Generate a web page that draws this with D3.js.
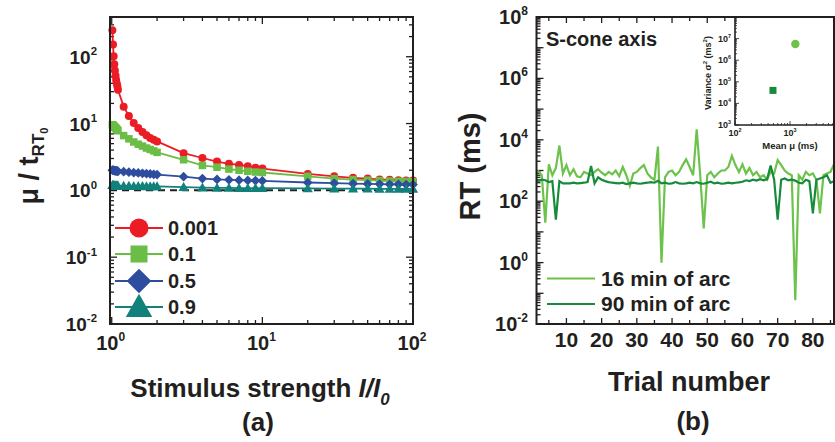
<!DOCTYPE html>
<html><head><meta charset="utf-8">
<script src="https://cdn.jsdelivr.net/npm/d3@7"></script>
<style>
body{margin:0;background:#fff}
svg{display:block;font-family:"Liberation Sans",Arial,sans-serif;font-weight:bold}
</style>
</head><body>
<svg id="c" width="835" height="442"></svg>
<script>
// ---------------- data: panel (a) ----------------
const stimulus = [1.01,1.02,1.03,1.04,1.05,1.06,1.07,1.08,1.09,1.1,
  1.2,1.3,1.4,1.5,1.6,1.7,1.8,1.9,2.0,
  3,4,5,6,7,8,9,10,
  20,30,40,50,60,70,80,90,100];
const p0001 = [250,152,102,77,62,52,45,40,36,32,
  17.9,13,10.2,8.6,7.5,6.7,6.1,5.7,5.4,
  3.6,3.05,2.7,2.5,2.4,2.3,2.18,2.12,
  1.76,1.62,1.54,1.5,1.46,1.44,1.42,1.41,1.4];
const p01 = [9.6,9.4,9.2,9.0,8.8,8.6,8.4,8.2,8.0,7.8,
  6.6,5.9,5.3,4.9,4.6,4.3,4.1,3.9,3.7,
  2.87,2.36,2.22,2.08,2.0,1.93,1.88,1.85,
  1.62,1.5,1.45,1.42,1.4,1.38,1.37,1.36,1.35];
const p05 = [2.0,2.0,1.99,1.98,1.97,1.96,1.95,1.95,1.94,1.93,
  1.9,1.87,1.84,1.82,1.8,1.78,1.76,1.74,1.72,
  1.6,1.5,1.46,1.44,1.42,1.41,1.4,1.39,
  1.31,1.28,1.26,1.25,1.24,1.23,1.23,1.22,1.22];
const p09 = [1.2,1.2,1.19,1.19,1.19,1.18,1.18,1.18,1.18,1.18,
  1.17,1.17,1.16,1.16,1.16,1.15,1.15,1.15,1.15,
  1.12,1.1,1.09,1.09,1.08,1.08,1.08,1.08,
  1.07,1.06,1.06,1.06,1.05,1.05,1.05,1.05,1.05];
const seriesNames = ["0.001","0.1","0.5","0.9"];
const leftXTickExps = [0,1,2];
const leftYTickExps = [-2,-1,0,1,2];

// ---------------- data: panel (b) ----------------
const trials = [1,2,3,4,5,6,7,8,9,10,11,12,13,14,15,16,17,18,19,20,
  21,22,23,24,25,26,27,28,29,30,31,32,33,34,35,36,37,38,39,40,
  41,42,43,44,45,46,47,48,49,50,51,52,53,54,55,56,57,58,59,60,
  61,62,63,64,65,66,67,68,69,70,71,72,73,74,75,76,77,78,79,80,
  81,82,83,84,85,86];
const rt16 = [800,950,700,20,1600,700,1200,6500,800,1500,
  700,1100,650,600,900,800,700,900,1100,850,
  700,900,750,1000,650,1300,700,320,800,900,
  1200,1500,800,600,500,6000,1,600,900,1000,
  700,900,1500,2300,1300,700,22000,700,13,700,
  900,600,800,1000,1000,1300,3000,1500,900,1600,
  800,1200,700,900,600,700,500,900,800,2200,
  1500,1000,800,700,0.06,700,500,900,700,800,
  500,40,700,800,900,1600];
const rt90 = [600,450,500,480,420,450,25,450,380,380,
  380,400,380,390,400,420,1400,380,600,500,
  450,420,400,390,380,400,360,380,400,380,
  370,390,400,420,400,460,380,400,370,380,
  420,380,370,380,400,380,420,380,370,400,
  430,380,400,370,380,400,380,400,410,430,
  480,450,500,470,520,480,520,1450,500,25,
  500,550,480,500,470,400,380,500,450,40,
  500,550,600,700,400,450];
const rightLegend = ["16 min of arc","90 min of arc"];
const rightYTickExps = [-2,0,2,4,6,8];
const rightXTicks = [10,20,30,40,50,60,70,80];
// inset: mean vs variance
const insetMean = [1250, 490];
const insetVar = [5.6e6, 4.0e4];
const insetXTickExps = [2,3];
const insetYTickExps = [3,4,5,6,7];

// ---------------- styling ----------------
const colA = ["#ec1c24","#6abd45","#2e4d9f","#12817c"];
const colB = ["#6cc24a","#178a3c"];
const ink = "#231f20";
const svg = d3.select("#c");

function supText(g, x, y, exp, size, anchor){
  const t = g.append("text").attr("x",x).attr("y",y)
    .attr("text-anchor",anchor).attr("font-size",size).attr("fill",ink);
  t.append("tspan").text("10");
  t.append("tspan").text(String(exp)).attr("font-size",size*0.6).attr("dy",-size*0.45);
  return t;
}

// ================= Panel (a) =================
const L = {x0:110, x1:413, y0:17, y1:324};
const xa = d3.scaleLog().domain([0.974,100]).range([L.x0,L.x1]);
const ya = d3.scaleLog().domain([0.01,393]).range([L.y1,L.y0]);
const ga = svg.append("g");

const isMajor = v => Math.abs(Math.log10(v) - Math.round(Math.log10(v))) < 1e-9;
const tka = ga.append("g").attr("stroke",ink).attr("stroke-width",1.3);
xa.ticks().filter(v=>v>=1).forEach(v=>{
  const len = isMajor(v)?7:4, x = xa(v);
  tka.append("line").attr("x1",x).attr("x2",x).attr("y1",L.y1).attr("y2",L.y1-len);
  tka.append("line").attr("x1",x).attr("x2",x).attr("y1",L.y0).attr("y2",L.y0+len);
});
ya.ticks().forEach(v=>{
  const len = isMajor(v)?7:4, y = ya(v);
  tka.append("line").attr("x1",L.x0).attr("x2",L.x0+len).attr("y1",y).attr("y2",y);
  tka.append("line").attr("x1",L.x1).attr("x2",L.x1-len).attr("y1",y).attr("y2",y);
});

ga.append("line").attr("x1",L.x0).attr("x2",L.x1).attr("y1",ya(1)).attr("y2",ya(1))
  .attr("stroke",ink).attr("stroke-width",2).attr("stroke-dasharray","7,5");

const seriesA = [p0001,p01,p05,p09];
const line = d3.line().x(d=>xa(d[0])).y(d=>ya(d[1]));
function marker(g, kind, x, y, s, color){
  if(kind===0) g.append("circle").attr("cx",x).attr("cy",y).attr("r",s/2).attr("fill",color);
  else if(kind===1) g.append("rect").attr("x",x-s/2).attr("y",y-s/2).attr("width",s).attr("height",s).attr("fill",color);
  else if(kind===2) g.append("path").attr("d",`M${x},${y-s*0.65}L${x+s*0.65},${y}L${x},${y+s*0.65}L${x-s*0.65},${y}Z`).attr("fill",color);
  else g.append("path").attr("d",`M${x},${y-s*0.6}L${x+s*0.6},${y+s*0.45}L${x-s*0.6},${y+s*0.45}Z`).attr("fill",color);
}
seriesA.forEach((vals,k)=>{
  const pts = stimulus.map((s,i)=>[s,vals[i]]);
  const g = ga.append("g");
  g.append("path").attr("d",line(pts)).attr("fill","none").attr("stroke",colA[k]).attr("stroke-width",1.8);
  const size = [8,7.5,7.5,8.5][k];
  pts.forEach(p=>marker(g,k,xa(p[0]),ya(p[1]),size,colA[k]));
});

ga.append("rect").attr("x",L.x0).attr("y",L.y0).attr("width",L.x1-L.x0).attr("height",L.y1-L.y0)
  .attr("fill","none").attr("stroke",ink).attr("stroke-width",2);

leftYTickExps.forEach(e=>supText(ga, 97, ya(Math.pow(10,e))+7, e, 19, "end"));
leftXTickExps.forEach(e=>supText(ga, xa(Math.pow(10,e))-1, 350, e, 20, "middle"));

const legRows = [228,254,281,307];
seriesNames.forEach((n,k)=>{
  const y = legRows[k];
  ga.append("line").attr("x1",115).attr("x2",163).attr("y1",y).attr("y2",y)
    .attr("stroke",colA[k]).attr("stroke-width",2);
  marker(ga,k,139,y,[19,17,19,22][k],colA[k]);
  ga.append("text").attr("x",168).attr("y",y+7).attr("font-size",20).attr("fill",ink).text(n);
});

const yt = ga.append("text").attr("transform","translate(38,166) rotate(-90)")
  .attr("text-anchor","middle").attr("font-size",27).attr("fill",ink);
yt.append("tspan").text("\u03bc / t");
yt.append("tspan").text("RT").attr("font-size",17).attr("dy",6);
yt.append("tspan").text("0").attr("font-size",11).attr("dy",4);
const xt = ga.append("text").attr("x",260).attr("y",397).attr("text-anchor","middle")
  .attr("font-size",26).attr("fill",ink);
xt.append("tspan").text("Stimulus strength ");
xt.append("tspan").text("I/I").attr("font-style","italic");
xt.append("tspan").text("0").attr("font-style","italic").attr("font-size",17).attr("dy",8);
ga.append("text").attr("x",258).attr("y",431).attr("text-anchor","middle")
  .attr("font-size",26).attr("fill",ink).text("(a)");

// ================= Panel (b) =================
const R = {x0:536.5, x1:834, y0:17, y1:324};
const xb = d3.scaleLinear().domain([1.5,86]).range([R.x0,R.x1]);
const yb = d3.scaleLog().domain([0.01,1e8]).range([R.y1,R.y0]);
const gb = svg.append("g");
gb.append("clipPath").attr("id","clipb").append("rect")
  .attr("x",R.x0).attr("y",R.y0).attr("width",R.x1-R.x0).attr("height",R.y1-R.y0);

const tkb = gb.append("g").attr("stroke",ink).attr("stroke-width",1.3);
yb.ticks(40).forEach(v=>{
  const len = isMajor(v)?7:4, y = yb(v);
  tkb.append("line").attr("x1",R.x0).attr("x2",R.x0+len).attr("y1",y).attr("y2",y);
});
d3.range(5,90,5).filter(v=>v<=86).forEach(v=>{
  const x = xb(v), len = v%10===0?6:4;
  tkb.append("line").attr("x1",x).attr("x2",x).attr("y1",R.y1).attr("y2",R.y1-len);
  tkb.append("line").attr("x1",x).attr("x2",x).attr("y1",R.y0).attr("y2",R.y0+len);
});

const lineB = d3.line().x((d,i)=>xb(trials[i])).y(d=>yb(d));
const dataB = [rt16, rt90];
dataB.forEach((vals,k)=>{
  gb.append("path").attr("clip-path","url(#clipb)").attr("d",lineB(vals))
    .attr("fill","none").attr("stroke",colB[k]).attr("stroke-width",2.2).attr("stroke-linejoin","miter");
});

gb.append("rect").attr("x",R.x0).attr("y",R.y0).attr("width",R.x1-R.x0).attr("height",R.y1-R.y0)
  .attr("fill","none").attr("stroke",ink).attr("stroke-width",2);

rightYTickExps.forEach(e=>supText(gb, 528, yb(Math.pow(10,e))+7, e, 20, "end"));
rightXTicks.forEach(v=>gb.append("text").attr("x",xb(v)).attr("y",347).attr("text-anchor","middle")
  .attr("font-size",21).attr("fill",ink).text(v));

gb.append("text").attr("transform","translate(480,166.5) rotate(-90)").attr("text-anchor","middle")
  .attr("font-size",29).attr("fill",ink).text("RT (ms)");
gb.append("text").attr("x",689).attr("y",391).attr("text-anchor","middle")
  .attr("font-size",27).attr("fill",ink).text("Trial number");
gb.append("text").attr("x",693).attr("y",430).attr("text-anchor","middle")
  .attr("font-size",26).attr("fill",ink).text("(b)");
gb.append("text").attr("x",546).attr("y",46).attr("font-size",20).attr("fill",ink).text("S-cone axis");

[278.5,304].forEach((y,k)=>{
  gb.append("line").attr("x1",547).attr("x2",595).attr("y1",y).attr("y2",y)
    .attr("stroke",colB[k]).attr("stroke-width",2.2);
  gb.append("text").attr("x",601).attr("y",y+7).attr("font-size",21).attr("fill",ink).text(rightLegend[k]);
});

// ---------------- inset ----------------
const I = {x0:735, x1:834, y0:17, y1:125};
const xi = d3.scaleLog().domain([100,6300]).range([I.x0,I.x1]);
const yi = d3.scaleLog().domain([1e3,1e8]).range([I.y1,I.y0]);
const gi = svg.append("g");
gi.append("rect").attr("x",I.x0).attr("y",I.y0).attr("width",I.x1-I.x0).attr("height",I.y1-I.y0).attr("fill","#fff");
const tki = gi.append("g").attr("stroke",ink).attr("stroke-width",0.8);
xi.ticks().forEach(v=>{
  const len = isMajor(v)?4:2, x = xi(v);
  tki.append("line").attr("x1",x).attr("x2",x).attr("y1",I.y1).attr("y2",I.y1-len);
});
yi.ticks(20).forEach(v=>{
  const len = isMajor(v)?4:2, y = yi(v);
  tki.append("line").attr("x1",I.x0).attr("x2",I.x0+len).attr("y1",y).attr("y2",y);
});
gi.append("path").attr("d",`M${I.x0},${I.y0}V${I.y1}H${I.x1}`).attr("fill","none")
  .attr("stroke",ink).attr("stroke-width",1.6);
gi.append("circle").attr("cx",xi(insetMean[0])).attr("cy",yi(insetVar[0])).attr("r",4.2).attr("fill",colB[0]);
gi.append("rect").attr("x",xi(insetMean[1])-3.5).attr("y",yi(insetVar[1])-3.5).attr("width",7).attr("height",7).attr("fill",colB[1]);
insetYTickExps.forEach(e=>supText(gi, 731, yi(Math.pow(10,e))+3, e, 9, "end"));
insetXTickExps.forEach(e=>supText(gi, xi(Math.pow(10,e)), 136, e, 9, "middle"));
gi.append("text").attr("x",790).attr("y",149).attr("text-anchor","middle").attr("font-size",9.5)
  .attr("fill",ink).text("Mean \u03bc (ms)");
const vt = gi.append("text").attr("transform","translate(711,73) rotate(-90)").attr("text-anchor","middle")
  .attr("font-size",9).attr("fill",ink);
vt.append("tspan").text("Variance \u03c3");
vt.append("tspan").text("2").attr("font-size",6).attr("dy",-4);
vt.append("tspan").text(" (ms").attr("dy",4);
vt.append("tspan").text("2").attr("font-size",6).attr("dy",-4);
vt.append("tspan").text(")").attr("dy",4);

svg.append("line").attr("x1",R.x0).attr("x2",R.x1).attr("y1",R.y0).attr("y2",R.y0)
  .attr("stroke",ink).attr("stroke-width",2);
svg.append("line").attr("x1",R.x1).attr("x2",R.x1).attr("y1",R.y0).attr("y2",R.y1)
  .attr("stroke",ink).attr("stroke-width",2);
</script>
</body></html>
